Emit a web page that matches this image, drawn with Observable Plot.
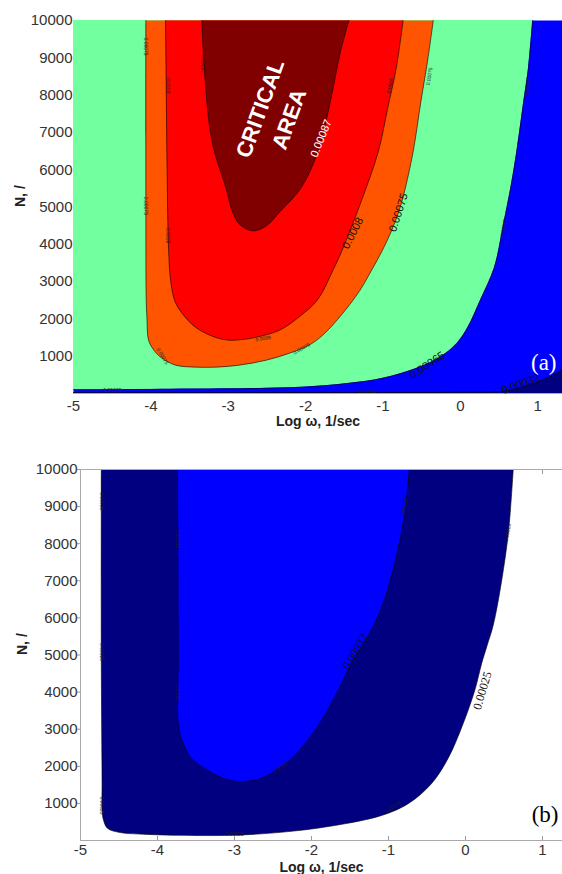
<!DOCTYPE html>
<html><head><meta charset="utf-8">
<script src="https://cdn.jsdelivr.net/npm/d3@7"></script>
<script src="https://cdn.jsdelivr.net/npm/@observablehq/plot@0.6"></script>
<style>
html,body{margin:0;padding:0;background:#fff;}
#chart svg{display:block;}
</style></head><body><div id="chart"></div>
<script>
// ---------- axes ----------
const xTicks = [-5, -4, -3, -2, -1, 0, 1];
const yTicks = [1000, 2000, 3000, 4000, 5000, 6000, 7000, 8000, 9000, 10000];
const nMax = 10000;
const xDomainA = [-5, 1.32];
const xDomainB = [-5, 1.26];

// ---------- panel (a) contours: [log ω, N] ----------
const a032 = [[-5, 22], [-2, 24], [0, 32], [0.5, 50], [0.75, 140], [0.95, 270], [1.15, 440], [1.32, 640]];
const a065 = [[-5, 100], [-4, 110], [-3, 125], [-2.5, 140], [-2, 172], [-1.43, 275], [-1.0, 410], [-0.56, 680],
  [-0.26, 975], [-0.04, 1350], [0.10, 1780], [0.26, 2500], [0.44, 3370], [0.56, 4550], [0.66, 5600],
  [0.73, 6490], [0.82, 7830], [0.88, 8710], [0.935, 10000]];
const a075 = [[-4.065, 10000], [-4.065, 5000], [-4.06, 2500], [-4.05, 2000], [-4.03, 1430], [-3.96, 1160],
  [-3.86, 950], [-3.68, 760], [-3.42, 707], [-3.16, 707], [-2.86, 760], [-2.51, 893], [-2.21, 1080],
  [-1.97, 1280], [-1.78, 1560], [-1.52, 2150], [-1.30, 2760], [-1.13, 3370], [-1.01, 3830], [-0.89, 4360],
  [-0.80, 4850], [-0.73, 5350], [-0.61, 6490], [-0.51, 7830], [-0.42, 8970], [-0.35, 10000]];
const a080 = [[-3.81, 10000], [-3.79, 6000], [-3.77, 3800], [-3.74, 2950], [-3.69, 2480], [-3.60, 2160],
  [-3.42, 1770], [-3.16, 1500], [-2.99, 1430], [-2.80, 1450], [-2.64, 1507], [-2.34, 1693], [-2.08, 2060],
  [-1.84, 2530], [-1.65, 3290], [-1.53, 3830], [-1.28, 5160], [-1.06, 6490], [-0.94, 7640], [-0.83, 8710],
  [-0.74, 10000]];
const a087 = [[-3.34, 10000], [-3.31, 8710], [-3.21, 6760], [-3.03, 5510], [-2.95, 4900], [-2.86, 4550],
  [-2.69, 4360], [-2.51, 4490], [-2.33, 4880], [-2.06, 5510], [-1.84, 6490], [-1.68, 7830], [-1.55, 9160],
  [-1.44, 10000]];

// ---------- panel (b) contours: [log ω, N] ----------
const b025 = [[-4.73, 10000], [-4.73, 5000], [-4.72, 1500], [-4.72, 800], [-4.70, 540], [-4.65, 330],
  [-4.50, 220], [-4.13, 165], [-3.70, 140], [-3.05, 140], [-2.40, 220], [-1.74, 390], [-1.09, 674],
  [-0.74, 997], [-0.44, 1536], [-0.22, 2237], [-0.03, 3154], [0.12, 4043], [0.21, 4771], [0.28, 5250],
  [0.36, 5800], [0.47, 7008], [0.56, 8356], [0.62, 10000]];
const b032 = [[-3.74, 10000], [-3.73, 5000], [-3.73, 3150], [-3.68, 2700], [-3.57, 2240], [-3.35, 1890],
  [-3.05, 1617], [-2.75, 1625], [-2.55, 1780], [-2.35, 2050], [-2.15, 2450], [-1.96, 2950], [-1.78, 3550],
  [-1.61, 4230], [-1.45, 4900], [-1.27, 5500], [-1.09, 6280], [-0.92, 7466], [-0.79, 8814], [-0.73, 10000]];

// ---------- contour labels ----------
const aLabelText = ["0.00087", "0.00075", "0.0008", "0.00065", "0.00032"];
const aLabelX = [-1.80, -0.80, -1.39, -0.43, 0.78];
const aLabelN = [6840, 4850, 4300, 760, 253];
const aSmallText = ["0.00075", "0.00075", "0.0008", "0.0008", "0.00087", "0.00065", "0.00065", "0.00075", "0.0008", "0.00075", "0.0008", "0.00075", "0.00032", "0.00032"];
const aSmallX = [-4.065, -4.065, -3.79, -3.79, -3.33, 0.87, 0.56, -0.40, -0.91, -3.85, -2.55, -2.05, -4.5, -1.2];
const aSmallN = [9300, 5030, 8250, 4230, 8830, 8250, 4450, 8500, 8250, 1000, 1470, 1200, 70, 60];

const bLabelText = ["0.00025", "0.00032"];
const bLabelX = [0.22, -1.43];
const bLabelN = [4040, 5090];
const bSmallText = ["0.00025", "0.00025", "0.00025", "0.00032", "0.00032", "0.00025", "0.00025", "0.00032", "0.00025", "0.00032"];
const bSmallX = [-4.73, -4.73, -4.73, -3.74, -3.74, -3.0, -0.94, -0.79, 0.55, -2.4];
const bSmallN = [9140, 5080, 944, 8120, 4000, 170, 900, 9000, 8300, 1970];

// ---------- styles ----------
const GREEN = "#72ffa0", ORANGE = "#ff5500", RED = "#ff0000", DARKRED = "#800000", BLUE = "#0000ff", NAVY = "#000080";
const SANS = "'Liberation Sans', Arial, Helvetica, sans-serif";
const SERIF = "'Liberation Serif', 'Times New Roman', serif";
const px = d => d[0], py = d => d[1];
const cline = {stroke: "#000", strokeWidth: 0.6, curve: "catmull-rom"};
const aLabelRot = [-68, -72, -63, -34, -20];
const aSmallRot = [90, 90, 90, 90, 90, -85, -80, -80, -78, 60, -10, -30, 0, 0];
const bLabelRot = [-73, -59];
const bSmallRot = [90, 90, 90, 90, 90, 0, -35, -78, -80, -35];
const idx = arr => arr.map((_, i) => i);

function labels(text, xs, ns, rot, opts) {
  return Plot.text(idx(text), {x: i => xs[i], y: i => ns[i], text: i => text[i], rotate: i => rot[i], ...opts});
}

const chartA = Plot.plot({
  width: 562, height: 437,
  marginTop: 20, marginBottom: 44, marginLeft: 73, marginRight: 0,
  x: {domain: xDomainA},
  y: {domain: [0, nMax]},
  style: {fontFamily: SANS, fontSize: "15px", color: "#333", background: "#fff"},
  marks: [
    Plot.frame({fill: BLUE}),
    Plot.areaY(a032, {x: px, y: py, fill: NAVY, curve: "catmull-rom", clip: true}),
    Plot.line(a032, {x: px, y: py, ...cline, clip: true}),
    Plot.areaY(a065, {x: px, y1: py, y2: nMax, fill: GREEN, curve: "catmull-rom", clip: true}),
    Plot.line(a065, {x: px, y: py, ...cline, clip: true}),
    Plot.line(a075, {x: px, y: py, fill: ORANGE, ...cline, clip: true}),
    Plot.line(a080, {x: px, y: py, fill: RED, ...cline, clip: true}),
    Plot.line(a087, {x: px, y: py, fill: DARKRED, ...cline, clip: true}),
    Plot.ruleY([0], {stroke: "#aaa"}),
    labels(aLabelText, aLabelX, aLabelN, aLabelRot, {fill: (i) => i === 0 ? "white" : "#111", fontSize: 11}),
    labels(aSmallText, aSmallX, aSmallN, aSmallRot, {fill: "#222", fontSize: 5}),
    Plot.text(["CRITICAL\nAREA"], {x: () => -2.43, y: () => 7520, text: d => d, rotate: -70, fill: "white",
      fontWeight: "bold", fontSize: 22, lineHeight: 1.4}),
    Plot.text(["(a)"], {frameAnchor: "bottom-right", textAnchor: "end", lineAnchor: "middle", dx: -6, dy: -31,
      fill: "white", fontFamily: SERIF, fontSize: 23}),
    Plot.axisY({ticks: yTicks, tickSize: 0, tickPadding: 1, tickFormat: d => String(d), label: null, fontSize: 15}),
    Plot.axisX({ticks: xTicks, tickSize: 0, tickPadding: 7, tickFormat: d => String(d), label: null, fontSize: 15}),
    Plot.text(["Log ω, 1/sec"], {frameAnchor: "bottom", lineAnchor: "bottom", dy: 32, fontWeight: "bold", fontSize: 14, fill: "#222"}),
    Plot.text(["N, /"], {frameAnchor: "left", dx: -53, rotate: -90, fontWeight: "bold", fontSize: 14, fill: "#222"})
  ]
});

const chartB = Plot.plot({
  width: 562, height: 437,
  marginTop: 32, marginBottom: 34, marginLeft: 80, marginRight: 0,
  x: {domain: xDomainB},
  y: {domain: [0, nMax]},
  style: {fontFamily: SANS, fontSize: "15px", color: "#333", background: "#fff"},
  marks: [
    Plot.axisX({anchor: "top", ticks: xTicks, tickSize: -4, tickFormat: () => "", label: null, stroke: "#999"}),
    Plot.axisX({ticks: xTicks, tickSize: -4, tickPadding: 8, tickFormat: d => String(d), label: null, stroke: "#999", fill: "#333", fontSize: 15}),
    Plot.line(b025, {x: px, y: py, fill: NAVY, ...cline, clip: true}),
    Plot.line(b032, {x: px, y: py, fill: BLUE, ...cline, clip: true}),
    Plot.ruleX([xDomainB[0]], {stroke: "#aaa"}),
    Plot.ruleY([0, nMax], {stroke: "#aaa"}),
    Plot.axisY({ticks: yTicks, tickSize: 3, tickPadding: 0, tickFormat: d => String(d), label: null, stroke: "#999", fill: "#333", fontSize: 15}),
    labels(bLabelText, bLabelX, bLabelN, bLabelRot, {fill: "#111", fontFamily: SERIF, fontSize: 12}),
    labels(bSmallText, bSmallX, bSmallN, bSmallRot, {fill: "#222", fontSize: 5}),
    Plot.text(["(b)"], {frameAnchor: "bottom-right", textAnchor: "end", lineAnchor: "middle", dx: -4, dy: -26,
      fill: "#000", fontFamily: SERIF, fontSize: 23}),
    Plot.text(["Log ω, 1/sec"], {frameAnchor: "bottom", lineAnchor: "bottom", dy: 31, fontWeight: "bold", fontSize: 14, fill: "#222"}),
    Plot.text(["N, /"], {frameAnchor: "left", dx: -58, rotate: -90, fontWeight: "bold", fontSize: 14, fill: "#222"})
  ]
});

document.getElementById("chart").append(chartA, chartB);
</script></body></html>
